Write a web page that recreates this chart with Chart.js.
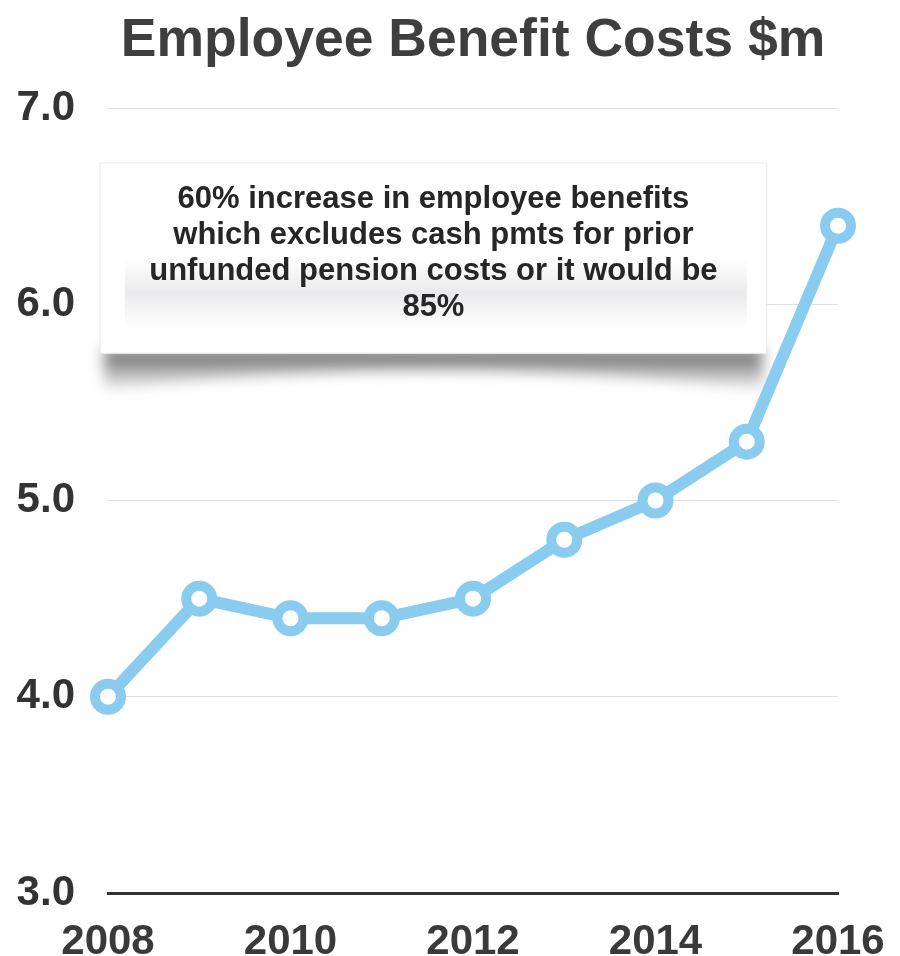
<!DOCTYPE html>
<html>
<head>
<meta charset="utf-8">
<script src="https://cdn.jsdelivr.net/npm/chart.js@4.4.1/dist/chart.umd.min.js"></script>
<style>
    html, body { margin: 0; padding: 0; background: #fff; }
    #wrap { width: 900px; height: 956px; position: relative; }
</style>
</head>
<body>
<div id="wrap"><canvas id="chart"></canvas></div>
<script>
const years = ['2008', '2009', '2010', '2011', '2012', '2013', '2014', '2015', '2016'];
const benefitCosts = [4.0, 4.5, 4.4, 4.4, 4.5, 4.8, 5.0, 5.3, 6.4];
const yTicks = [3.0, 4.0, 5.0, 6.0, 7.0];
const noteLines = [
    '60% increase in employee benefits',
    'which excludes cash pmts for prior',
    'unfunded pension costs or it would be',
    '85%'
];

const lineBlue = '#8acbf0';
const fontFamily = '"Liberation Sans", Arial, sans-serif';

// callout box drawn behind the line, with a curled paper shadow
const noteBox = {
    id: 'noteBox',
    beforeDatasetsDraw(chart) {
        const { ctx, chartArea, scales } = chart;
        const left = chartArea.left - 8;
        const right = scales.x.getPixelForValue(7.22);
        const top = scales.y.getPixelForValue(6.72);
        const bottom = scales.y.getPixelForValue(5.75);
        const mid = (left + right) / 2;

        ctx.save();
        ctx.filter = 'blur(7px)';
        const sh = ctx.createLinearGradient(0, bottom - 4, 0, bottom + 40);
        sh.addColorStop(0, 'rgba(60,60,60,0.8)');
        sh.addColorStop(1, 'rgba(60,60,60,0)');
        ctx.fillStyle = sh;
        ctx.beginPath();
        ctx.moveTo(left + 4, bottom - 4);
        ctx.lineTo(right - 4, bottom - 4);
        ctx.lineTo(right - 4, bottom + 36);
        ctx.quadraticCurveTo(mid, bottom - 2, left + 4, bottom + 36);
        ctx.closePath();
        ctx.fill();
        ctx.restore();

        ctx.save();
        ctx.fillStyle = '#fff';
        ctx.fillRect(left, top, right - left, bottom - top);
        const band = ctx.createLinearGradient(0, top + 95, 0, bottom - 25);
        band.addColorStop(0, 'rgba(225,225,228,0)');
        band.addColorStop(0.5, 'rgba(225,225,228,0.7)');
        band.addColorStop(1, 'rgba(225,225,228,0)');
        ctx.fillStyle = band;
        ctx.fillRect(left + 25, top + 95, right - left - 45, bottom - top - 120);
        ctx.strokeStyle = '#e8e8e8';
        ctx.lineWidth = 1;
        ctx.strokeRect(left, top, right - left, bottom - top);

        ctx.fillStyle = '#262626';
        ctx.font = 'bold 31px ' + fontFamily;
        ctx.textAlign = 'center';
        ctx.textBaseline = 'middle';
        const cx = (left + right) / 2;
        noteLines.forEach((line, i) => {
            ctx.fillText(line, cx, top + 37 + i * 35.7);
        });
        ctx.restore();
    }
};

new Chart(document.getElementById('chart'), {
    type: 'line',
    data: {
        labels: years,
        datasets: [{
            data: benefitCosts,
            borderColor: lineBlue,
            borderWidth: 12,
            pointRadius: 13,
            pointHoverRadius: 13,
            pointBorderWidth: 10,
            pointBackgroundColor: '#fff',
            pointBorderColor: lineBlue,
            tension: 0,
            clip: false
        }]
    },
    options: {
        responsive: true,
        maintainAspectRatio: false,
        animation: false,
        events: [],
        layout: { padding: { top: 0, right: 62, left: 0, bottom: 0 } },
        plugins: {
            legend: { display: false },
            tooltip: { enabled: false },
            title: {
                display: true,
                fullSize: false,
                text: 'Employee Benefit Costs $m',
                color: '#3e3e3e',
                font: { family: fontFamily, size: 53.5, weight: 'bold', lineHeight: 1.2 },
                padding: { top: 9, bottom: 34.8 }
            }
        },
        scales: {
            x: {
                offset: false,
                grid: { display: false, drawTicks: false },
                border: { display: true, color: '#333', width: 3 },
                ticks: {
                    autoSkip: false,
                    maxRotation: 0,
                    padding: 28,
                    color: '#3a3a3a',
                    font: { family: fontFamily, size: 42, weight: 'bold', lineHeight: 1 },
                    callback: (v, i) => (i % 2 === 0 ? years[i] : '')
                },
                afterFit: scale => {
                    scale.height = 63;
                    scale.paddingLeft = 0;
                    scale.paddingRight = 0;
                }
            },
            y: {
                min: yTicks[0],
                max: yTicks[yTicks.length - 1],
                afterBuildTicks: scale => { scale.ticks = yTicks.map(v => ({ value: v })); },
                grid: {
                    drawTicks: false,
                    color: ctx => (ctx.tick && ctx.tick.value === 3 ? 'rgba(0,0,0,0)' : '#e0e0e0'),
                    lineWidth: 1
                },
                border: { display: false },
                ticks: {
                    padding: 33,
                    color: '#333',
                    font: { family: fontFamily, size: 42, weight: 'bold', lineHeight: 1 },
                    callback: v => Number(v).toFixed(1)
                },
                afterFit: scale => { scale.width = 108; }
            }
        }
    },
    plugins: [noteBox]
});
</script>
</body>
</html>
